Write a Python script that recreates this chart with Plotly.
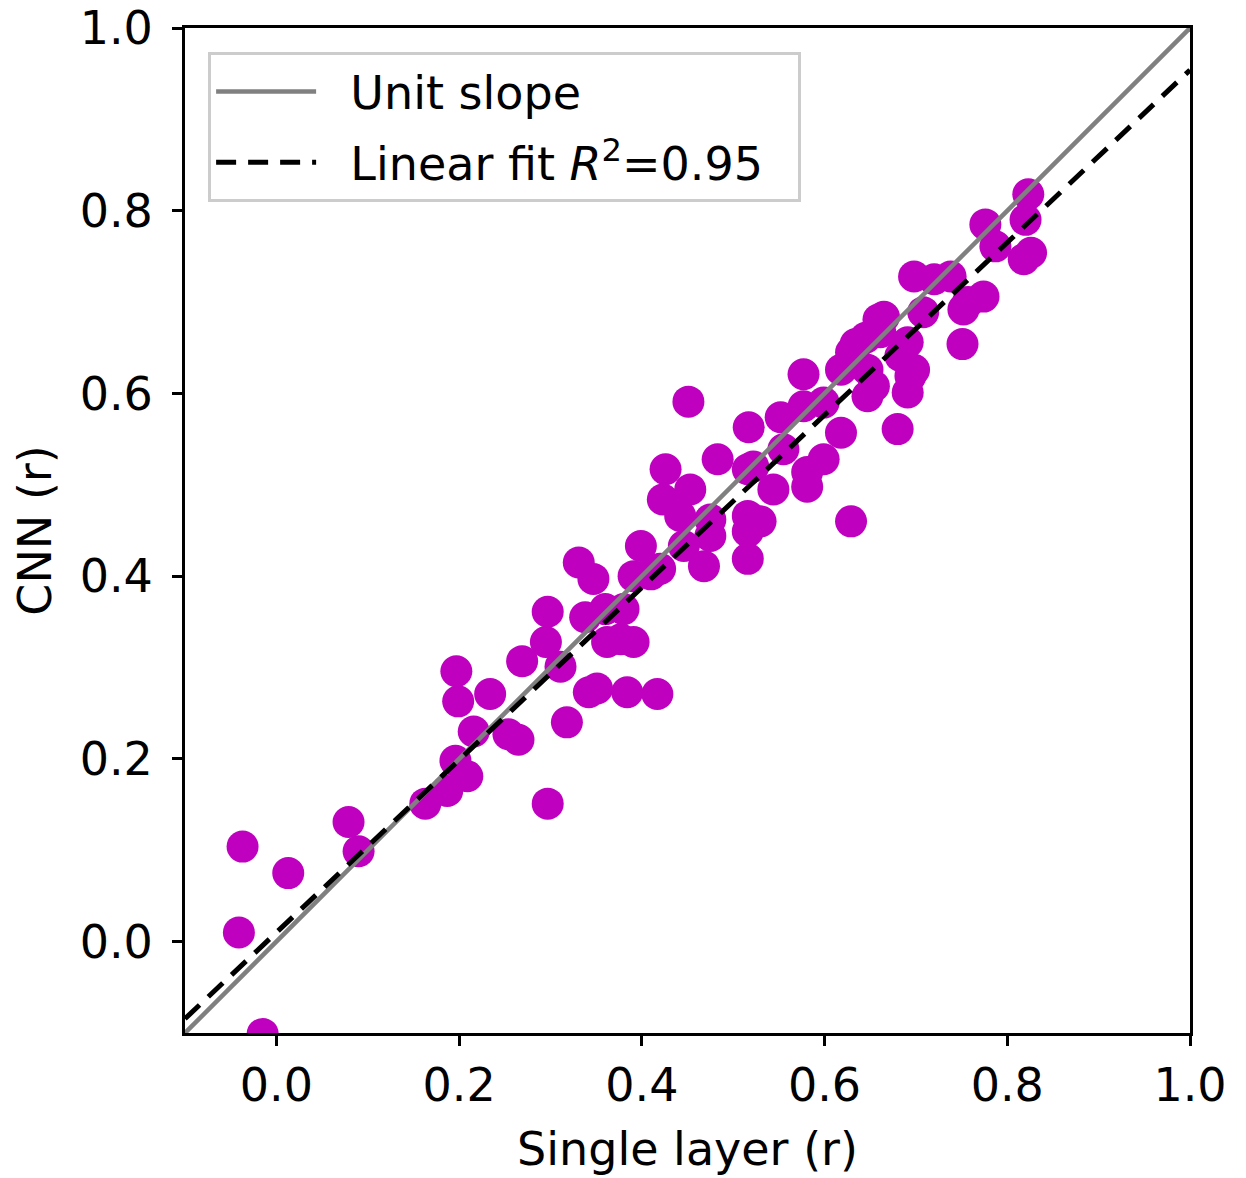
import plotly.graph_objects as go

# Scatter data: single-layer correlation (x) vs CNN correlation (y)
single_layer = [
    -0.037, -0.041, 0.013, -0.015, 0.079, 0.090, 0.163, 0.187, 0.196, 0.209,
    0.197, 0.199, 0.216, 0.234, 0.254, 0.265, 0.269, 0.297, 0.295, 0.297,
    0.311, 0.318, 0.331, 0.347, 0.338, 0.342, 0.351, 0.384, 0.417, 0.362,
    0.377, 0.391, 0.360, 0.380, 0.391, 0.399, 0.420, 0.410, 0.451, 0.426,
    0.423, 0.453, 0.442, 0.475, 0.483, 0.516, 0.516, 0.446, 0.468, 0.516,
    0.530, 0.516, 0.475, 0.517, 0.577, 0.629, 0.661, 0.654, 0.680, 0.599,
    0.577, 0.552, 0.618, 0.599, 0.581, 0.522, 0.581, 0.544, 0.555, 0.629,
    0.698, 0.720, 0.757, 0.665, 0.708, 0.751, 0.632, 0.691, 0.694, 0.647,
    0.691, 0.647, 0.823, 0.776, 0.820, 0.787, 0.818, 0.826, 0.738, 0.774,
    0.752, 0.618, 0.683, 0.698, 0.659, 0.645, 0.634,
]
cnn = [
    0.104, 0.010, 0.075, -0.101, 0.131, 0.099, 0.151, 0.165, 0.198, 0.181,
    0.296, 0.263, 0.230, 0.271, 0.227, 0.221, 0.307, 0.151, 0.328, 0.361,
    0.301, 0.240, 0.415, 0.397, 0.355, 0.273, 0.277, 0.273, 0.271, 0.328,
    0.331, 0.328, 0.364, 0.364, 0.400, 0.433, 0.408, 0.402, 0.591, 0.517,
    0.484, 0.495, 0.466, 0.462, 0.528, 0.517, 0.466, 0.433, 0.411, 0.419,
    0.460, 0.449, 0.444, 0.563, 0.621, 0.645, 0.667, 0.608, 0.561, 0.590,
    0.586, 0.574, 0.557, 0.528, 0.514, 0.520, 0.498, 0.495, 0.539, 0.460,
    0.728, 0.725, 0.700, 0.684, 0.689, 0.654, 0.641, 0.656, 0.619, 0.626,
    0.601, 0.597, 0.818, 0.785, 0.790, 0.761, 0.747, 0.754, 0.728, 0.706,
    0.692, 0.626, 0.641, 0.626, 0.681, 0.661, 0.654,
]

# Reference lines
line_x = [-0.1, 1.0]
fit_slope = 0.944
fit_intercept = 0.010

tick_vals = [0.0, 0.2, 0.4, 0.6, 0.8, 1.0]
tick_text = ["0.0", "0.2", "0.4", "0.6", "0.8", "1.0"]

FONT = "DejaVu Sans, Liberation Sans, sans-serif"
FS = 46
PAD = "\u00a0\u00a0"

fig = go.Figure()
fig.add_trace(go.Scatter(
    x=single_layer, y=cnn, mode="markers",
    marker=dict(color="#BF00BF", size=32, line=dict(width=0)),
    showlegend=False, hoverinfo="x+y",
))
fig.add_trace(go.Scatter(
    x=line_x, y=line_x, mode="lines",
    line=dict(color="#808080", width=4.5),
    name=PAD + "Unit slope" + PAD, legendgroup="a",
))
fig.add_trace(go.Scatter(
    x=line_x, y=[fit_slope * v + fit_intercept for v in line_x], mode="lines",
    line=dict(color="black", width=5, dash="20px,12px"),
    name=PAD + "Linear fit <i>R</i><sup>2</sup>=0.95" + PAD, legendgroup="b",
))

axis_common = dict(
    showgrid=False, zeroline=False, automargin=False,
    showline=True, mirror=True, linecolor="black", linewidth=3,
    ticks="outside", ticklen=10, tickwidth=3, tickcolor="black",
    tickfont=dict(size=FS, color="black", family=FONT),
    tickvals=tick_vals, ticktext=tick_text,
    ticklabeloverflow="allow",
)

fig.update_xaxes(range=[-0.1, 1.0], title=dict(text="Single layer (r)", font=dict(size=FS, family=FONT, color="black"), standoff=22), **axis_common)
fig.update_yaxes(range=[-0.1, 1.0], ticklabelstandoff=10, title=dict(text="CNN (r)", font=dict(size=FS, family=FONT, color="black"), standoff=14), **axis_common)

fig.update_layout(
    width=1238, height=1170,
    margin=dict(l=177, r=56, t=20, b=145),
    plot_bgcolor="white", paper_bgcolor="white",
    font=dict(family=FONT, color="black"),
    legend=dict(
        x=0.023, y=0.976, xanchor="left", yanchor="top",
        bgcolor="rgba(255,255,255,0.85)", bordercolor="#cccccc", borderwidth=3,
        font=dict(size=FS, family=FONT, color="black"),
        itemwidth=100, tracegroupgap=8,
    ),
)

fig.write_html("out.html")
